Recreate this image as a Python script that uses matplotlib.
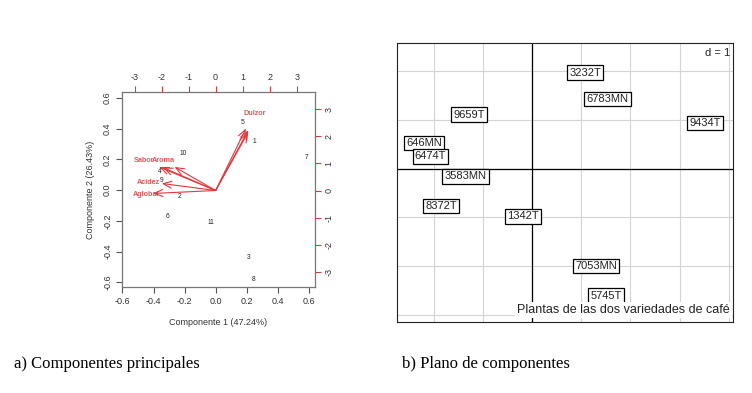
import matplotlib.pyplot as plt
import matplotlib as mpl

mpl.rcParams['font.family'] = ['Liberation Sans', 'DejaVu Sans']
mpl.rcParams['axes.unicode_minus'] = False

# --- a) biplot data (scores on bottom/left scale, loadings on top/right scale)
obs_ids = ['1', '2', '3', '4', '5', '6', '7', '8', '9', '10', '11']
obs_x = [0.245, -0.23, 0.21, -0.36, 0.17, -0.31, 0.58, 0.24, -0.35, -0.21, -0.03]
obs_y = [0.32, -0.04, -0.44, 0.12, 0.44, -0.17, 0.21, -0.58, 0.06, 0.24, -0.21]

# loadings (arrows)
var_x = [1.12, 1.21, 1.19, -2.09, -1.95, -1.52, -1.99, -2.32]
var_y = [2.29, 2.23, 2.13, 0.87, 0.85, 0.87, 0.26, -0.11]

# variable labels (clusters of arrows share a label spot)
lab_names = ['Dulzor', 'Sabor', 'Aroma', 'Acidez', 'Aglobal']
lab_x = [1.46, -2.66, -1.93, -2.48, -2.58]
lab_y = [2.84, 1.12, 1.12, 0.31, -0.14]

pc1_label = 'Componente 1 (47.24%)'
pc2_label = 'Componente 2 (26.43%)'

# --- b) plano de componentes
plant_names = ['3232T', '6783MN', '9434T', '9659T', '646MN', '6474T',
               '3583MN', '8372T', '1342T', '7053MN', '5745T']
plant_x = [1.08, 1.53, 3.52, -1.28, -2.20, -2.07, -1.36, -1.85, -0.18, 1.30, 1.50]
plant_y = [1.97, 1.43, 0.94, 1.11, 0.53, 0.25, -0.16, -0.76, -0.98, -1.99, -2.60]

red = '#e0383c'
gray_txt = '#333333'

fig = plt.figure(figsize=(7.52, 3.93), dpi=100)

# ---------------- left: biplot ----------------
rect = [0.162, 0.270, 0.257, 0.496]
ax = fig.add_axes(rect)
ax.set_xlim(-0.604, 0.638)
ax.set_ylim(-0.629, 0.639)
ax.set_xticks([-0.6, -0.4, -0.2, 0.0, 0.2, 0.4, 0.6])
ax.set_yticks([-0.6, -0.4, -0.2, 0.0, 0.2, 0.4, 0.6])
ax.tick_params(labelsize=6.5, length=4, width=0.8, colors='#555555', labelcolor=gray_txt, pad=3)
for lbl in ax.get_yticklabels():
    lbl.set_rotation(90)
    lbl.set_va('center')
for s in ax.spines.values():
    s.set_color('#777777')
    s.set_linewidth(0.9)
ax.set_xlabel(pc1_label, fontsize=6.5, color=gray_txt, labelpad=9)
ax.set_ylabel(pc2_label, fontsize=6.5, color=gray_txt, labelpad=6)

for name, x, y in zip(obs_ids, obs_x, obs_y):
    ax.text(x, y, name, fontsize=4.8, ha='center', va='center', color='#222222')

ax2 = fig.add_axes(rect, frameon=False)
ax2.set_xlim(-3.47, 3.68)
ax2.set_ylim(-3.56, 3.64)
ax2.xaxis.tick_top()
ax2.yaxis.tick_right()
ax2.set_xticks([-3, -2, -1, 0, 1, 2, 3])
ax2.set_yticks([-3, -2, -1, 0, 1, 2, 3])
ax2.tick_params(labelsize=6.5, length=4, width=0.8, colors=red, labelcolor=gray_txt, pad=3)
for lbl in ax2.get_yticklabels():
    lbl.set_rotation(90)
    lbl.set_va('center')
ax2.patch.set_alpha(0)

for x, y in zip(var_x, var_y):
    ax2.annotate('', xy=(x, y), xytext=(0, 0),
                 arrowprops=dict(arrowstyle='->,head_length=0.6,head_width=0.25',
                                 color=red, lw=0.8, shrinkA=0, shrinkB=0))
for name, x, y in zip(lab_names, lab_x, lab_y):
    ax2.text(x, y, name, fontsize=5.2, color=red, ha='center', va='center', fontweight='bold',
             alpha=0.85)

# ---------------- right: plano de componentes ----------------
ax3 = fig.add_axes([0.528, 0.181, 0.447, 0.710])
ax3.set_xlim(-2.75, 4.09)
ax3.set_ylim(-3.14, 2.58)
ax3.set_xticks(range(-2, 5))
ax3.set_yticks(range(-3, 3))
ax3.grid(True, color='#d4d4d4', lw=0.8)
ax3.tick_params(length=0, labelbottom=False, labelleft=False)
for s in ax3.spines.values():
    s.set_color('#222222')
    s.set_linewidth(0.8)
ax3.axvline(0, color='black', lw=0.9, zorder=2)
ax3.axhline(0, color='black', lw=0.9, zorder=2)

for name, x, y in zip(plant_names, plant_x, plant_y):
    ax3.text(x, y, name, fontsize=8, ha='center', va='center', color='#222222', zorder=4,
             bbox=dict(boxstyle='square,pad=0.2', fc='white', ec='black', lw=0.9))

ax3.text(0.992, 0.965, 'd = 1', transform=ax3.transAxes, fontsize=8, ha='right', va='center',
         color='#222222', zorder=5)
ax3.text(0.99, 0.022, 'Plantas de las dos variedades de café', transform=ax3.transAxes,
         fontsize=9, ha='right', va='bottom', color='#222222', zorder=5,
         bbox=dict(boxstyle='square,pad=0.15', fc='white', ec='none'))

# ---------------- captions ----------------
fig.text(14 / 752, 1 - 364 / 393, 'a) Componentes principales', fontsize=12,
         family='Liberation Serif', ha='left', va='center')
fig.text(402 / 752, 1 - 364 / 393, 'b) Plano de componentes', fontsize=12,
         family='Liberation Serif', ha='left', va='center')

fig.savefig('out.png', dpi=100)
